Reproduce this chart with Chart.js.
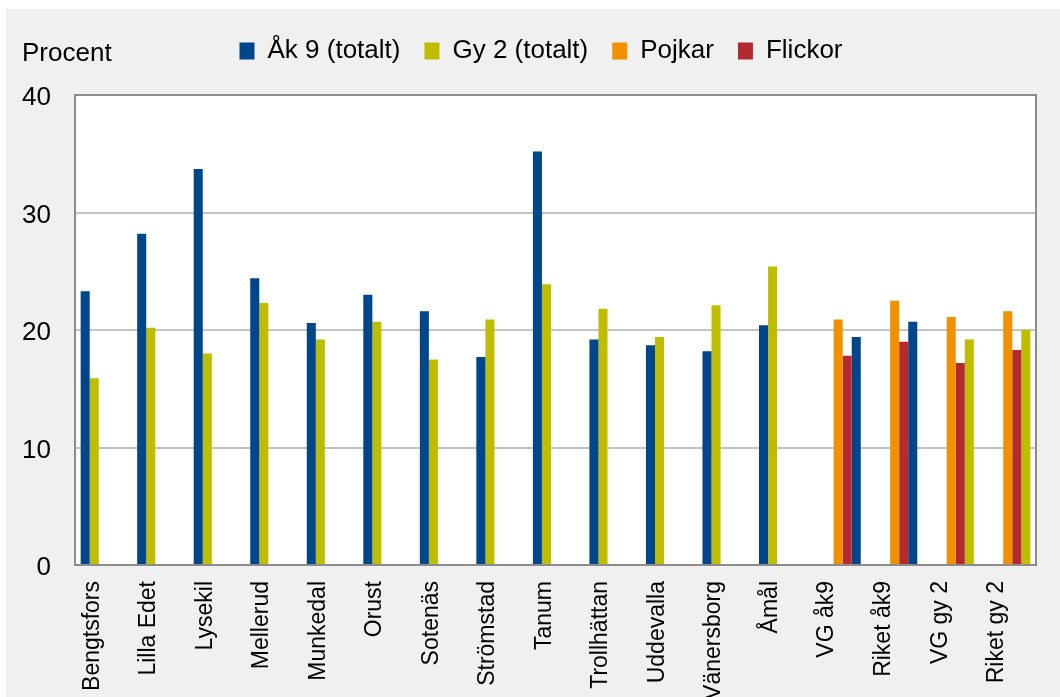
<!DOCTYPE html>
<html>
<head>
<meta charset="utf-8">
<script src="https://cdn.jsdelivr.net/npm/chart.js@4/dist/chart.umd.min.js"></script>
<style>
  html, body { margin: 0; padding: 0; background: #ffffff; }
  #wrap { position: absolute; left: 6px; top: 9px; width: 1054px; height: 688px; background: #f0f0f0; }
</style>
</head>
<body>
<div id="wrap"><canvas id="myChart" width="1054" height="688"></canvas></div>
<script>
  var categories = ["Bengtsfors", "Lilla Edet", "Lysekil", "Mellerud", "Munkedal", "Orust", "Sotenäs",
    "Strömstad", "Tanum", "Trollhättan", "Uddevalla", "Vänersborg", "Åmål",
    "VG åk9", "Riket åk9", "VG gy 2", "Riket gy 2"];
  var ak9Values = [23.3, 28.2, 33.7, 24.4, 20.6, 23.0, 21.6, 17.7, 35.2, 19.2, 18.7, 18.2, 20.4,
    null, null, null, null];
  var gy2Values = [15.9, 20.2, 18.0, 22.3, 19.2, 20.7, 17.5, 20.9, 23.9, 21.8, 19.4, 22.1, 25.4,
    null, null, null, null];
  var pojkarValues = [null, null, null, null, null, null, null, null, null, null, null, null, null,
    20.9, 22.5, 21.1, 21.6];
  var flickorValues = [null, null, null, null, null, null, null, null, null, null, null, null, null,
    17.8, 19.0, 17.2, 18.3];
  var totalValues = [null, null, null, null, null, null, null, null, null, null, null, null, null,
    19.4, 20.7, 19.2, 20.0];
  var yTicks = [0, 10, 20, 30, 40];

  var blue = "#00468a";
  var yellow = "#bfbd00";
  var orange = "#f29100";
  var red = "#b52a30";
  var totalColors = [blue, blue, blue, blue, blue, blue, blue, blue, blue, blue, blue, blue, blue,
    blue, blue, yellow, yellow];
  var fontFamily = "'Liberation Sans', Arial, sans-serif";

  // plot area background, border and the "Procent" label
  var frame = {
    id: "frame",
    afterLayout(chart) {
      // legend sits a bit right of centre in the original
      chart.legend.left += 40;
    },
    beforeDraw(chart) {
      var a = chart.chartArea, ctx = chart.ctx;
      ctx.save();
      ctx.fillStyle = "#ffffff";
      ctx.fillRect(a.left, a.top, a.right - a.left, a.bottom - a.top);
      ctx.restore();
    },
    beforeDatasetsDraw(chart) {
      var a = chart.chartArea, ctx = chart.ctx;
      ctx.save();
      ctx.strokeStyle = "#8c8c8c";
      ctx.lineWidth = 2;
      ctx.strokeRect(a.left, a.top, a.right - a.left, a.bottom - a.top);
      ctx.restore();
    },
    afterDraw(chart) {
      var ctx = chart.ctx;
      ctx.save();
      ctx.fillStyle = "#000000";
      ctx.font = "26px " + fontFamily;
      ctx.textBaseline = "alphabetic";
      ctx.fillText("Procent", 16, 52);
      ctx.restore();
    }
  };

  new Chart("myChart", {
    type: "bar",
    data: {
      labels: categories,
      datasets: [
        { label: "Åk 9 (totalt)", data: ak9Values, backgroundColor: blue },
        { label: "Gy 2 (totalt)", data: gy2Values, backgroundColor: yellow },
        { label: "Pojkar", data: pojkarValues, backgroundColor: orange },
        { label: "Flickor", data: flickorValues, backgroundColor: red },
        { label: "Totalt", data: totalValues, backgroundColor: totalColors }
      ]
    },
    options: {
      responsive: false,
      animation: false,
      categoryPercentage: 0.8,
      barPercentage: 1,
      layout: { padding: { top: 5, right: 24, bottom: 0, left: 0 } },
      plugins: {
        legend: {
          display: true,
          position: "top",
          labels: {
            font: { family: fontFamily, size: 26 },
            color: "#000000",
            boxWidth: 15,
            boxHeight: 17,
            padding: 24,
            filter: function (item) { return item.datasetIndex < 4; }
          }
        },
        title: {
          display: true,
          text: "",
          weight: 500,
          font: { size: 10, lineHeight: 1 },
          padding: { top: 0, bottom: 11 }
        },
        tooltip: { enabled: false }
      },
      scales: {
        x: {
          grid: { display: false },
          border: { display: false },
          ticks: {
            autoSkip: false,
            minRotation: 90,
            maxRotation: 90,
            padding: 8,
            labelOffset: -11,
            color: "#000000",
            font: { family: fontFamily, size: 23 }
          },
          afterFit: function (s) { s.height = 132; }
        },
        y: {
          min: 0,
          max: 40,
          afterBuildTicks: function (s) { s.ticks = yTicks.map(function (v) { return { value: v }; }); },
          grid: { color: "#c4c4c4", lineWidth: 2, drawTicks: false },
          border: { display: false },
          ticks: {
            padding: 24,
            labelOffset: 3,
            color: "#000000",
            font: { family: fontFamily, size: 26 }
          },
          afterFit: function (s) { s.width = 69; }
        }
      }
    },
    plugins: [frame]
  });
</script>
</body>
</html>
